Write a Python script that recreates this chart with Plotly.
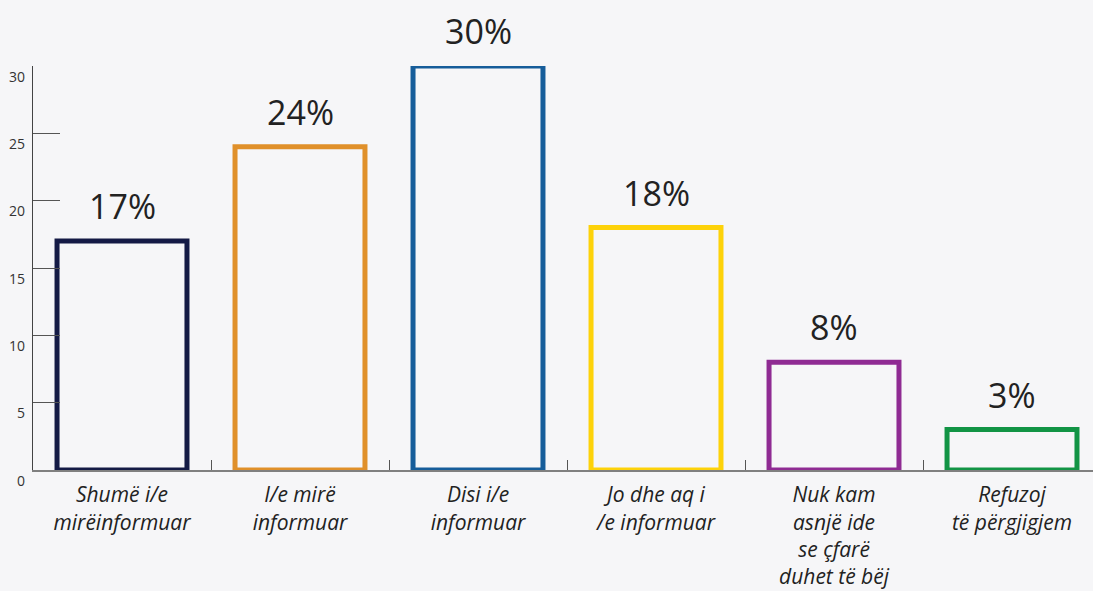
import plotly.graph_objects as go

categories = ["Shumë i/e<br>mirëinformuar", "I/e mirë<br>informuar", "Disi i/e<br>informuar",
              "Jo dhe aq i<br>/e informuar", "Nuk kam<br>asnjë ide<br>se çfarë<br>duhet të bëj",
              "Refuzoj<br>të përgjigjem"]
values = [17, 24, 30, 18, 8, 3]
labels = ["17%", "24%", "30%", "18%", "8%", "3%"]
colors = ["#141a45", "#e0902a", "#165d9a", "#fdd20a", "#8f2b93", "#129445"]
yticks = [0, 5, 10, 15, 20, 25, 30]

BG = "#f6f6f8"
FONT = "Open Sans"

fig = go.Figure()
fig.add_trace(go.Bar(
    x=categories, y=values, width=0.73,
    marker=dict(color=BG, line=dict(color=colors, width=5)),
    hoverinfo="skip", cliponaxis=False,
))

annotations = []
for c, v, t in zip(categories, values, labels):
    annotations.append(dict(x=c, y=v, text=t, showarrow=False, xref="x", yref="y",
                            yanchor="bottom", yshift=10,
                            font=dict(family=FONT, size=34, color="#222222")))
for t in yticks:
    annotations.append(dict(x=0, y=t, xref="paper", yref="y", text=str(t), showarrow=False,
                            xanchor="right", xshift=-6, yshift=-10,
                            font=dict(family=FONT, size=14, color="#333333")))

fig.update_layout(
    width=1093, height=591,
    margin=dict(l=33, r=0, t=66, b=121),
    paper_bgcolor=BG, plot_bgcolor=BG,
    showlegend=False,
    annotations=annotations,
    xaxis=dict(
        type="category",
        range=[-0.5, 5.455],
        automargin=False,
        tickson="boundaries", ticks="inside", ticklen=10, tickcolor="#555555", tickwidth=1,
        ticklabelstandoff=5,
        showline=True, linecolor="#808080", linewidth=2,
        showgrid=False, zeroline=False,
        tickfont=dict(family=FONT, size=21, color="#222222", style="italic"),
    ),
    yaxis=dict(
        range=[0, 30],
        automargin=False,
        tickvals=yticks, showticklabels=False,
        ticks="inside", ticklen=27, tickcolor="#555555", tickwidth=1,
        showline=True, linecolor="#444444", linewidth=1,
        showgrid=False, zeroline=False,
    ),
)

fig.write_html("out.html", config={"displayModeBar": False},
               post_script="document.body.style.margin='0';")
